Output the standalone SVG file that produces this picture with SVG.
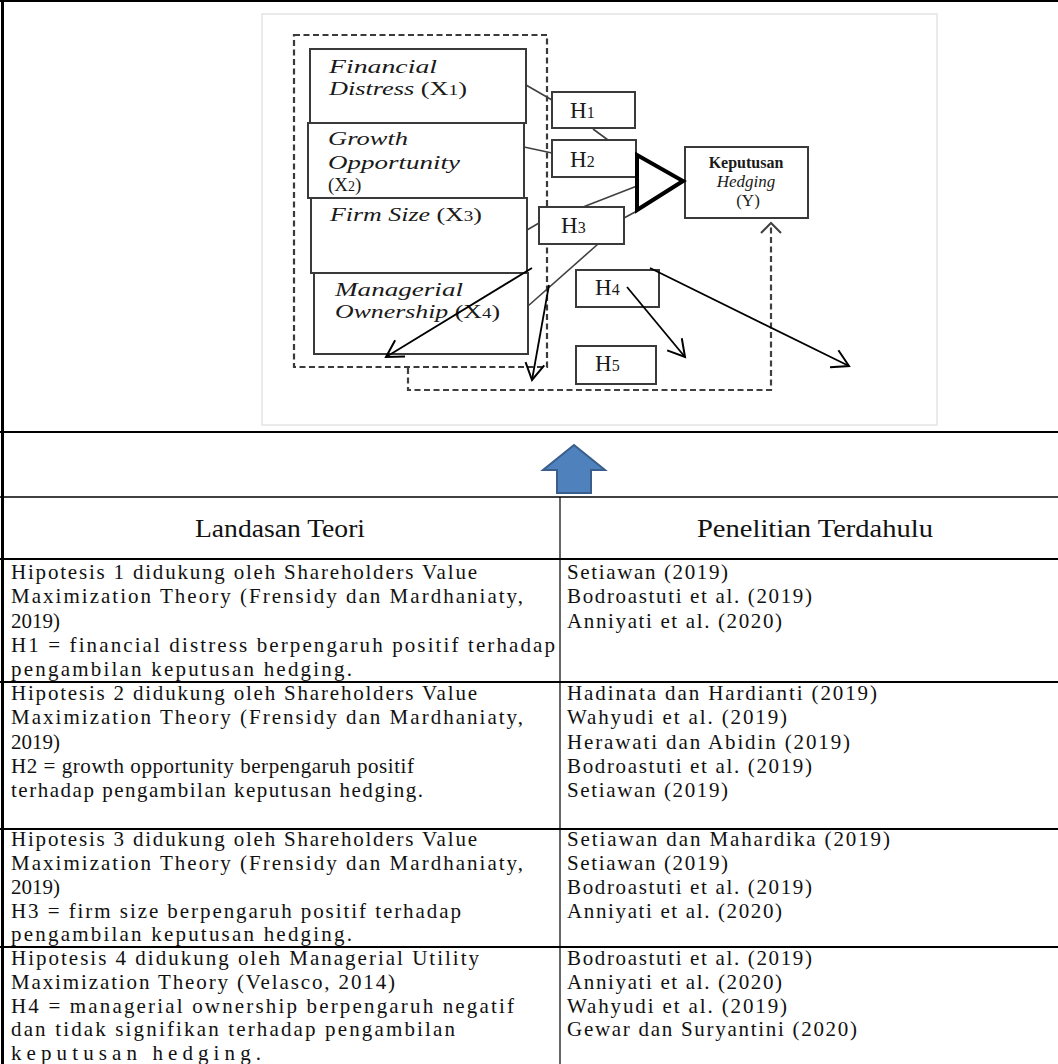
<svg xmlns="http://www.w3.org/2000/svg" width="1058" height="1064" viewBox="0 0 1058 1064">
<defs>
<style>
.tbl{stroke:#000;stroke-width:2;fill:none}
.box{fill:#fff;stroke:#3a3a3a;stroke-width:2}
.lbl{font-family:"Liberation Serif",serif;font-style:italic;font-size:19px;fill:#1a1a1a}
.h{font-family:"Liberation Serif",serif;font-size:23px;fill:#1a1a1a}
.sub{font-size:16px}
.xs{font-size:14px}
.t{font-family:"Liberation Serif",serif;font-size:21px;fill:#111}
.hd{font-family:"Liberation Serif",serif;font-size:25px;fill:#111}
.gl{stroke:#404040;stroke-width:1.6;fill:none}
.bl{stroke:#000;stroke-width:1.8;fill:none;marker-end:url(#openV)}
</style>
<marker id="openV" markerUnits="userSpaceOnUse" markerWidth="26" markerHeight="26" viewBox="-20 -13 26 26" refX="0" refY="0" orient="auto">
<path d="M-16.5,-9.5 L0,0 L-16.5,9.5" fill="none" stroke="#000" stroke-width="2"/>
</marker>
<marker id="openD" markerUnits="userSpaceOnUse" markerWidth="26" markerHeight="26" viewBox="-14 -13 26 26" refX="0" refY="0" orient="auto">
<path d="M-10,-10 L0,0 L-10,10" fill="none" stroke="#404040" stroke-width="2"/>
</marker>
</defs>
<rect width="1058" height="1064" fill="#fff"/>

<g id="table">
<line class="tbl" x1="0" y1="1" x2="1058" y2="1"/>
<line class="tbl" x1="2.5" y1="0" x2="2.5" y2="1064" style="stroke-width:3"/>
<line class="tbl" x1="0" y1="432" x2="1058" y2="432"/>
<line class="tbl" x1="0" y1="497" x2="1058" y2="497" style="stroke-width:1.5"/>
<line class="tbl" x1="560" y1="497" x2="560" y2="1064" style="stroke-width:1.2"/>
<line class="tbl" x1="0" y1="559" x2="1058" y2="559"/>
<line class="tbl" x1="0" y1="682" x2="1058" y2="682"/>
<line class="tbl" x1="0" y1="829" x2="1058" y2="829"/>
<line class="tbl" x1="0" y1="947" x2="1058" y2="947"/>
</g>

<g id="frame">
<rect x="262" y="14" width="675" height="411" fill="#fff" stroke="#e4e4e4" stroke-width="1.5"/>
<rect x="294" y="35" width="253" height="332" fill="none" stroke="#3a3a3a" stroke-width="2.2" stroke-dasharray="6,3.5"/>
</g>

<g id="connectors">
<path d="M408,368 L408,390 L771,390 L771,223" fill="none" stroke="#404040" stroke-width="2.2" stroke-dasharray="6,3.5" marker-end="url(#openD)"/>
<line class="gl" x1="526" y1="85" x2="552" y2="100"/>
<line class="gl" x1="593" y1="129" x2="608" y2="140"/>
<line class="gl" x1="524" y1="147" x2="552" y2="153"/>
<line class="gl" x1="583" y1="207" x2="637" y2="186"/>
<line class="gl" x1="624" y1="218" x2="637" y2="211"/>
<line class="gl" x1="527" y1="230" x2="539" y2="223"/>
<line class="gl" x1="528" y1="306" x2="598" y2="244"/>
</g>

<g id="node-x1">
<rect class="box" x="310" y="49" width="216" height="74"/>
<text class="lbl" x="329" y="73" textLength="108" lengthAdjust="spacingAndGlyphs">Financial</text>
<text class="lbl" x="329" y="95" textLength="138" lengthAdjust="spacingAndGlyphs">Distress <tspan font-style="normal">(X<tspan class="xs">1</tspan>)</tspan></text>
</g>
<g id="node-x2">
<rect class="box" x="308" y="123" width="216" height="75"/>
<text class="lbl" x="328" y="145" textLength="80" lengthAdjust="spacingAndGlyphs">Growth</text>
<text class="lbl" x="328" y="169" textLength="132" lengthAdjust="spacingAndGlyphs">Opportunity</text>
<text class="lbl" x="328" y="191" style="font-style:normal">(X<tspan class="xs">2</tspan>)</text>
</g>
<g id="node-x3">
<rect class="box" x="311" y="198" width="216" height="75"/>
<text class="lbl" x="330" y="221" textLength="152" lengthAdjust="spacingAndGlyphs">Firm Size <tspan font-style="normal">(X<tspan class="xs">3</tspan>)</tspan></text>
</g>
<g id="node-x4">
<rect class="box" x="314" y="273" width="214" height="81"/>
<text class="lbl" x="335" y="296" textLength="128" lengthAdjust="spacingAndGlyphs">Managerial</text>
<text class="lbl" x="335" y="318" textLength="165" lengthAdjust="spacingAndGlyphs">Ownership <tspan font-style="normal">(X<tspan class="xs">4</tspan>)</tspan></text>
</g>
<g id="node-h1">
<rect class="box" x="552" y="92" width="83" height="36"/>
<text class="h" x="570" y="118">H<tspan class="sub">1</tspan></text>
</g>
<g id="node-h2">
<rect class="box" x="552" y="140" width="84" height="37"/>
<text class="h" x="570" y="167">H<tspan class="sub">2</tspan></text>
</g>
<g id="node-h3">
<rect class="box" x="539" y="207" width="85" height="37"/>
<text class="h" x="561" y="233">H<tspan class="sub">3</tspan></text>
</g>
<g id="node-h4">
<rect class="box" x="576" y="270" width="83" height="37"/>
<text class="h" x="595" y="295">H<tspan class="sub">4</tspan></text>
</g>
<g id="node-h5">
<rect class="box" x="576" y="346" width="80" height="38"/>
<text class="h" x="595" y="371">H<tspan class="sub">5</tspan></text>
</g>
<g id="node-y">
<rect class="box" x="685" y="147" width="123" height="71"/>
<text x="746" y="168" text-anchor="middle" font-family="Liberation Serif, serif" font-size="16" font-weight="bold" fill="#1a1a1a">Keputusan</text>
<text x="746" y="187" text-anchor="middle" font-family="Liberation Serif, serif" font-size="17" font-style="italic" fill="#1a1a1a">Hedging</text>
<text x="748" y="206" text-anchor="middle" font-family="Liberation Serif, serif" font-size="17" fill="#1a1a1a">(Y)</text>
</g>

<g id="arrows">
<polygon points="637,155 683,181 637,210" fill="#fff" stroke="#000" stroke-width="4" stroke-linejoin="miter"/>
<line class="bl" x1="532" y1="268" x2="386" y2="357"/>
<line class="bl" x1="549" y1="285" x2="532" y2="380"/>
<line class="bl" x1="627" y1="287" x2="685" y2="357"/>
<line class="bl" x1="650" y1="268" x2="849" y2="366"/>
</g>

<g id="up-arrow">
<polygon points="574,445 605,470 591,470 591,493 557,493 557,470 543,470" fill="#4F81BD" stroke="#3A5F8C" stroke-width="2" stroke-linejoin="miter"/>
</g>

<g id="header">
<text class="hd" x="280" y="537" text-anchor="middle" textLength="170" lengthAdjust="spacingAndGlyphs">Landasan Teori</text>
<text class="hd" x="815" y="537" text-anchor="middle" textLength="236" lengthAdjust="spacingAndGlyphs">Penelitian Terdahulu</text>
</g>

<g id="row1">
<text class="t" x="11" y="579" textLength="466" lengthAdjust="spacing">Hipotesis 1 didukung oleh Shareholders Value</text>
<text class="t" x="11" y="603" textLength="512" lengthAdjust="spacing">Maximization Theory (Frensidy dan Mardhaniaty,</text>
<text class="t" x="11" y="628">2019)</text>
<text class="t" x="11" y="652" textLength="544" lengthAdjust="spacing">H1 = financial distress berpengaruh positif terhadap</text>
<text class="t" x="11" y="676" textLength="341" lengthAdjust="spacing">pengambilan keputusan hedging.</text>
<text class="t" x="567" y="579" textLength="161" lengthAdjust="spacing">Setiawan (2019)</text>
<text class="t" x="567" y="603" textLength="245" lengthAdjust="spacing">Bodroastuti et al. (2019)</text>
<text class="t" x="567" y="628" textLength="215" lengthAdjust="spacing">Anniyati et al. (2020)</text>
</g>

<g id="row2">
<text class="t" x="11" y="700" textLength="466" lengthAdjust="spacing">Hipotesis 2 didukung oleh Shareholders Value</text>
<text class="t" x="11" y="724" textLength="512" lengthAdjust="spacing">Maximization Theory (Frensidy dan Mardhaniaty,</text>
<text class="t" x="11" y="749">2019)</text>
<text class="t" x="11" y="773" textLength="403" lengthAdjust="spacing">H2 = growth opportunity berpengaruh positif</text>
<text class="t" x="11" y="797" textLength="412" lengthAdjust="spacing">terhadap pengambilan keputusan hedging.</text>
<text class="t" x="567" y="700" textLength="310" lengthAdjust="spacing">Hadinata dan Hardianti (2019)</text>
<text class="t" x="567" y="724" textLength="220" lengthAdjust="spacing">Wahyudi et al. (2019)</text>
<text class="t" x="567" y="749" textLength="283" lengthAdjust="spacing">Herawati dan Abidin (2019)</text>
<text class="t" x="567" y="773" textLength="245" lengthAdjust="spacing">Bodroastuti et al. (2019)</text>
<text class="t" x="567" y="797" textLength="161" lengthAdjust="spacing">Setiawan (2019)</text>
</g>

<g id="row3">
<text class="t" x="11" y="846" textLength="466" lengthAdjust="spacing">Hipotesis 3 didukung oleh Shareholders Value</text>
<text class="t" x="11" y="870" textLength="512" lengthAdjust="spacing">Maximization Theory (Frensidy dan Mardhaniaty,</text>
<text class="t" x="11" y="894">2019)</text>
<text class="t" x="11" y="918" textLength="450" lengthAdjust="spacing">H3 = firm size berpengaruh positif terhadap</text>
<text class="t" x="11" y="941" textLength="341" lengthAdjust="spacing">pengambilan keputusan hedging.</text>
<text class="t" x="567" y="846" textLength="323" lengthAdjust="spacing">Setiawan dan Mahardika (2019)</text>
<text class="t" x="567" y="870" textLength="161" lengthAdjust="spacing">Setiawan (2019)</text>
<text class="t" x="567" y="894" textLength="245" lengthAdjust="spacing">Bodroastuti et al. (2019)</text>
<text class="t" x="567" y="918" textLength="215" lengthAdjust="spacing">Anniyati et al. (2020)</text>
</g>

<g id="row4">
<text class="t" x="11" y="965" textLength="468" lengthAdjust="spacing">Hipotesis 4 didukung oleh Managerial Utility</text>
<text class="t" x="11" y="989" textLength="384" lengthAdjust="spacing">Maximization Theory (Velasco, 2014)</text>
<text class="t" x="11" y="1013" textLength="503" lengthAdjust="spacing">H4 = managerial ownership berpengaruh negatif</text>
<text class="t" x="11" y="1036" textLength="444" lengthAdjust="spacing">dan tidak signifikan terhadap pengambilan</text>
<text class="t" x="11" y="1060" textLength="250" lengthAdjust="spacing">keputusan hedging.</text>
<text class="t" x="567" y="965" textLength="245" lengthAdjust="spacing">Bodroastuti et al. (2019)</text>
<text class="t" x="567" y="989" textLength="215" lengthAdjust="spacing">Anniyati et al. (2020)</text>
<text class="t" x="567" y="1013" textLength="220" lengthAdjust="spacing">Wahyudi et al. (2019)</text>
<text class="t" x="567" y="1036" textLength="290" lengthAdjust="spacing">Gewar dan Suryantini (2020)</text>
</g>
</svg>
